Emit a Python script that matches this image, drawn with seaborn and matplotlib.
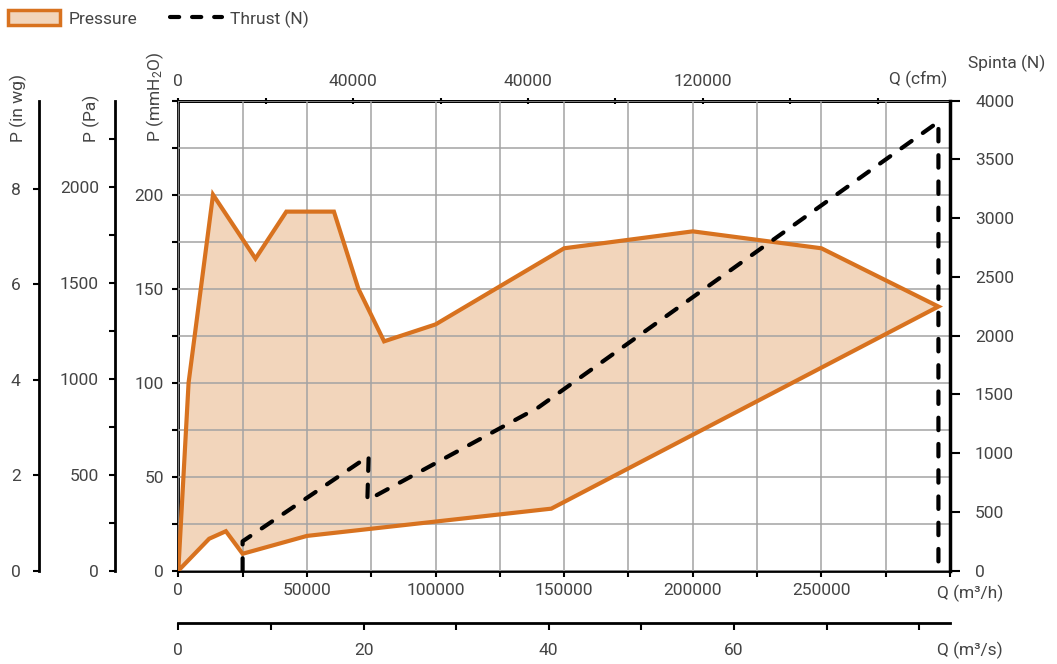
import matplotlib
matplotlib.use('Agg')
import matplotlib.pyplot as plt
import seaborn as sns
from matplotlib.patches import Patch
from matplotlib.lines import Line2D
from matplotlib.ticker import MultipleLocator

# pressure envelope (Q in m3/h, P in mmH2O)
upper_q = [0, 4000, 13500, 30000, 42000, 60500, 70000, 80000, 100000, 150000, 200000, 250000, 295500]
upper_p = [0, 100, 200, 166, 191, 191, 150, 122, 131, 171.5, 180.5, 171.5, 140.5]
lower_q = [295500, 145000, 50000, 25000, 18500, 12000, 0]
lower_p = [140.5, 33, 18.5, 9, 21, 17, 0]

# thrust curve (Q in m3/h, N)
thrust_q = [25000, 25000, 74000, 73500, 140000, 295500, 295500]
thrust_n = [0, 250, 975, 600, 1390, 3820, 0]

q_ticks = [0, 50000, 100000, 150000, 200000, 250000]
p_ticks = [0, 50, 100, 150, 200]
cfm_ticks = [0, 20000, 40000, 60000, 80000, 100000, 120000, 140000, 160000]
cfm_labels = ['0', '', '40000', '', '40000', '', '120000', '', '']
m3s_ticks = [0, 10, 20, 30, 40, 50, 60, 70, 80]
m3s_labels = ['0', '', '20', '', '40', '', '60', '', '']
pa_ticks = [0, 500, 1000, 1500, 2000]
inwg_ticks = [0, 2, 4, 6, 8]

ORANGE = '#D8721F'
FILL = '#F2D5BB'
GRID = '#A3A3A3'
TXT = '#444444'

sns.set_theme(style='white')
plt.rcParams['font.family'] = ['Roboto', 'DejaVu Sans']
plt.rcParams['mathtext.fontset'] = 'custom'
plt.rcParams['mathtext.rm'] = 'Roboto'
plt.rcParams['mathtext.default'] = 'regular'
plt.rcParams['text.color'] = TXT
plt.rcParams['axes.edgecolor'] = 'black'
plt.rcParams['xtick.color'] = 'black'
plt.rcParams['ytick.color'] = 'black'
plt.rcParams['xtick.labelcolor'] = TXT
plt.rcParams['ytick.labelcolor'] = TXT
FS = 12.5

W, H = 1057, 664
x0, x1, y0, y1 = 178.3, 950, 570.7, 100.7
fig = plt.figure(figsize=(W / 100, H / 100), dpi=100)
ax = fig.add_axes([x0 / W, 1 - y0 / H, (x1 - x0) / W, (y0 - y1) / H])

poly_q = upper_q + lower_q
poly_p = upper_p + lower_p
ax.fill(poly_q, poly_p, color=FILL, lw=0, zorder=1)
sns.lineplot(x=poly_q, y=poly_p, sort=False, estimator=None, color=ORANGE,
             lw=3, ax=ax, zorder=3)
ax.lines[-1].set_solid_joinstyle('miter')

ax.set_xlim(0, 300000)
ax.set_ylim(0, 250)
ax.set_xticks(q_ticks)
ax.xaxis.set_minor_locator(MultipleLocator(25000))
ax.set_yticks(p_ticks)
ax.yaxis.set_minor_locator(MultipleLocator(25))
ax.set_axisbelow(False)
ax.grid(True, which='both', color=GRID, lw=1.1, zorder=2)
for s in ax.spines.values():
    s.set_color('black')
    s.set_linewidth(2)
ax.tick_params(axis='x', which='both', direction='out', length=4, width=1.5,
               labelsize=FS, pad=5, bottom=True, top=False)
ax.tick_params(axis='y', which='both', direction='out', length=4.5, width=1.5,
               labelsize=FS, pad=6, left=True, right=False)
ax.set_xlabel('')
ax.set_ylabel('')

# right axis: thrust
ax2 = ax.twinx()
ax2.set_ylim(0, 4000)
ax2.yaxis.set_major_locator(MultipleLocator(500))
sns.lineplot(x=thrust_q, y=thrust_n, sort=False, estimator=None, color='black',
             lw=3, ax=ax2, zorder=4)
ax2.lines[-1].set_linestyle((0, (3.0, 3.3)))
ax2.lines[-1].set_dash_capstyle('round')
ax2.set_xlim(0, 300000)
for s in ax2.spines.values():
    s.set_visible(False)
ax2.spines['right'].set_visible(True)
ax2.spines['right'].set_color('black')
ax2.spines['right'].set_linewidth(2.5)
ax2.tick_params(axis='y', direction='out', length=7, width=1.5, labelsize=FS,
                pad=11, right=True)
ax2.grid(False)
ax2.set_ylabel('')

# top axis: cfm
top = ax.secondary_xaxis('top', functions=(lambda q: q / 1.699011, lambda c: c * 1.699011))
top.set_xticks(cfm_ticks, labels=cfm_labels)
top.tick_params(direction='inout', length=5, width=1.5, labelsize=FS, pad=6)
top.spines['top'].set_linewidth(2)

# bottom axis: m3/s
bot = ax.secondary_xaxis(-(623.3 - y0) / (y0 - y1), functions=(lambda q: q / 3600, lambda s: s * 3600))
bot.set_xticks(m3s_ticks, labels=m3s_labels)
bot.tick_params(direction='out', length=5, width=1.5, labelsize=FS, pad=9)
bot.spines['bottom'].set_linewidth(2)
bot.spines['bottom'].set_color('black')

# left axes: Pa and in wg
pa = ax.secondary_yaxis(-(x0 - 115) / (x1 - x0),
                        functions=(lambda p: p * 9.80665, lambda v: v / 9.80665))
pa.set_yticks(pa_ticks)
pa.yaxis.set_minor_locator(MultipleLocator(250))
pa.tick_params(which='both', direction='out', length=4.5, width=1.5, labelsize=FS, pad=7)
pa.spines['left'].set_linewidth(2)
pa.spines['left'].set_color('black')

inwg = ax.secondary_yaxis(-(x0 - 39.3) / (x1 - x0),
                          functions=(lambda p: p * 9.80665 / 249.089, lambda v: v * 249.089 / 9.80665))
inwg.set_yticks(inwg_ticks)
inwg.tick_params(direction='out', length=4.5, width=1.5, labelsize=FS, pad=9)
inwg.spines['left'].set_linewidth(2)
inwg.spines['left'].set_color('black')

# axis titles
def ftext(x, y, s, **kw):
    fig.text(x / W, 1 - y / H, s, fontsize=FS, **kw)

ftext(18, 142, 'P (in wg)', rotation=90, ha='center', va='bottom')
ftext(91, 142, 'P (Pa)', rotation=90, ha='center', va='bottom')
ftext(155, 142, 'P (mmH$_2$O)', rotation=90, ha='center', va='bottom')
ftext(968, 63, 'Spinta (N)', ha='left', va='center')
ftext(947, 79, 'Q (cfm)', ha='right', va='center')
ftext(937, 593, 'Q (m³/h)', ha='left', va='center')
ftext(937, 650, 'Q (m³/s)', ha='left', va='center')

handles = [
    Patch(facecolor=FILL, edgecolor=ORANGE, linewidth=2.5, label='Pressure'),
    Line2D([], [], color='black', lw=3, ls=(0, (2.2, 3.1)), dash_capstyle='round',
           label='Thrust (N)'),
]
fig.legend(handles=handles, loc='upper left', bbox_to_anchor=(-0.002, 1.0),
           ncol=2, frameon=False, fontsize=FS, handlelength=3.0,
           handleheight=0.95, handletextpad=0.45, columnspacing=1.9,
           borderaxespad=0.2)

fig.savefig('out.png', dpi=100)
